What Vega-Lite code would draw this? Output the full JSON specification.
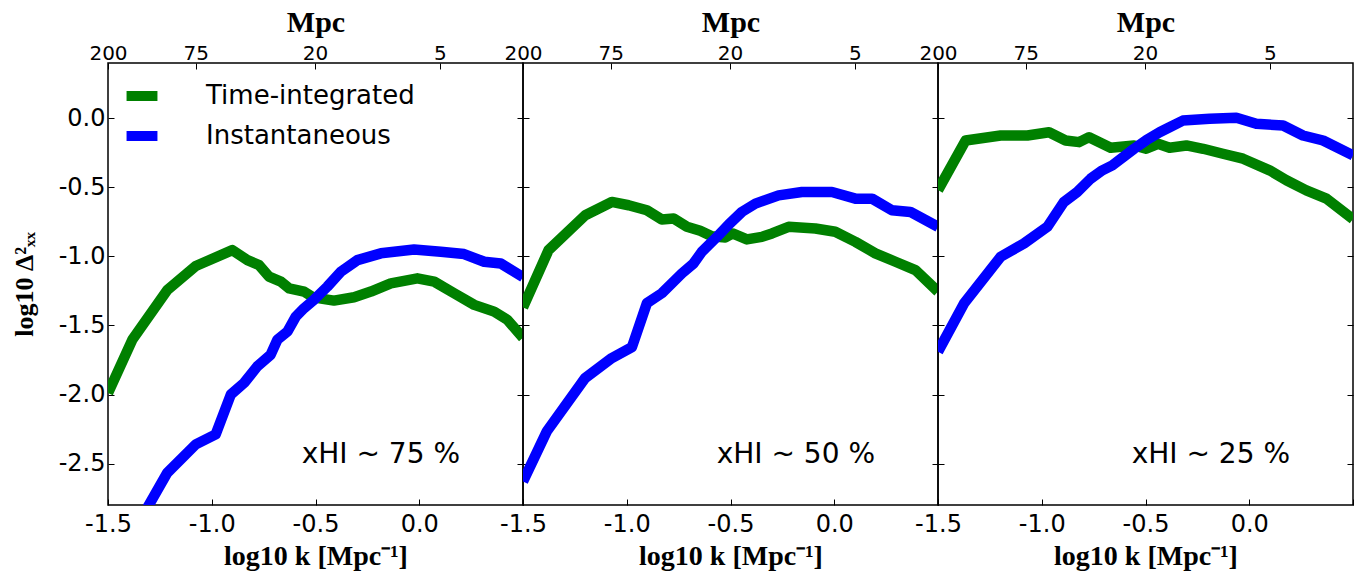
{
  "$schema": "https://vega.github.io/schema/vega-lite/v6.json",
  "background": "white",
  "padding": {"left": 10, "top": 6, "right": 5, "bottom": 5},
  "bounds": "flush",
  "spacing": 0,
  "datasets": {
    "d1": [
      {"s": "Time-integrated", "x": -1.5, "y": -1.99}, {"s": "Time-integrated", "x": -1.383, "y": -1.604}, {"s": "Time-integrated", "x": -1.214, "y": -1.243}, {"s": "Time-integrated", "x": -1.077, "y": -1.07}, {"s": "Time-integrated", "x": -0.901, "y": -0.955}, {"s": "Time-integrated", "x": -0.828, "y": -1.027}, {"s": "Time-integrated", "x": -0.772, "y": -1.063}, {"s": "Time-integrated", "x": -0.724, "y": -1.147}, {"s": "Time-integrated", "x": -0.667, "y": -1.183}, {"s": "Time-integrated", "x": -0.627, "y": -1.231}, {"s": "Time-integrated", "x": -0.555, "y": -1.255}, {"s": "Time-integrated", "x": -0.511, "y": -1.297}, {"s": "Time-integrated", "x": -0.411, "y": -1.32}, {"s": "Time-integrated", "x": -0.314, "y": -1.296}, {"s": "Time-integrated", "x": -0.233, "y": -1.255}, {"s": "Time-integrated", "x": -0.137, "y": -1.195}, {"s": "Time-integrated", "x": -0.009, "y": -1.159}, {"s": "Time-integrated", "x": 0.072, "y": -1.183}, {"s": "Time-integrated", "x": 0.168, "y": -1.267}, {"s": "Time-integrated", "x": 0.265, "y": -1.351}, {"s": "Time-integrated", "x": 0.361, "y": -1.4}, {"s": "Time-integrated", "x": 0.425, "y": -1.46}, {"s": "Time-integrated", "x": 0.5, "y": -1.59},
      {"s": "Instantaneous", "x": -1.36, "y": -2.95}, {"s": "Instantaneous", "x": -1.214, "y": -2.566}, {"s": "Instantaneous", "x": -1.077, "y": -2.361}, {"s": "Instantaneous", "x": -0.981, "y": -2.289}, {"s": "Instantaneous", "x": -0.908, "y": -2.0}, {"s": "Instantaneous", "x": -0.844, "y": -1.916}, {"s": "Instantaneous", "x": -0.78, "y": -1.796}, {"s": "Instantaneous", "x": -0.716, "y": -1.712}, {"s": "Instantaneous", "x": -0.684, "y": -1.604}, {"s": "Instantaneous", "x": -0.635, "y": -1.544}, {"s": "Instantaneous", "x": -0.595, "y": -1.436}, {"s": "Instantaneous", "x": -0.555, "y": -1.375}, {"s": "Instantaneous", "x": -0.511, "y": -1.32}, {"s": "Instantaneous", "x": -0.443, "y": -1.219}, {"s": "Instantaneous", "x": -0.378, "y": -1.111}, {"s": "Instantaneous", "x": -0.298, "y": -1.027}, {"s": "Instantaneous", "x": -0.185, "y": -0.978}, {"s": "Instantaneous", "x": -0.025, "y": -0.95}, {"s": "Instantaneous", "x": 0.104, "y": -0.967}, {"s": "Instantaneous", "x": 0.216, "y": -0.983}, {"s": "Instantaneous", "x": 0.313, "y": -1.039}, {"s": "Instantaneous", "x": 0.393, "y": -1.051}, {"s": "Instantaneous", "x": 0.5, "y": -1.15}
    ],
    "d2": [
      {"s": "Time-integrated", "x": -1.5, "y": -1.37}, {"s": "Time-integrated", "x": -1.377, "y": -0.955}, {"s": "Time-integrated", "x": -1.2, "y": -0.702}, {"s": "Time-integrated", "x": -1.072, "y": -0.606}, {"s": "Time-integrated", "x": -0.991, "y": -0.63}, {"s": "Time-integrated", "x": -0.903, "y": -0.666}, {"s": "Time-integrated", "x": -0.831, "y": -0.733}, {"s": "Time-integrated", "x": -0.774, "y": -0.726}, {"s": "Time-integrated", "x": -0.71, "y": -0.786}, {"s": "Time-integrated", "x": -0.646, "y": -0.815}, {"s": "Time-integrated", "x": -0.59, "y": -0.854}, {"s": "Time-integrated", "x": -0.525, "y": -0.863}, {"s": "Time-integrated", "x": -0.49, "y": -0.834}, {"s": "Time-integrated", "x": -0.421, "y": -0.877}, {"s": "Time-integrated", "x": -0.349, "y": -0.859}, {"s": "Time-integrated", "x": -0.3, "y": -0.834}, {"s": "Time-integrated", "x": -0.22, "y": -0.786}, {"s": "Time-integrated", "x": -0.091, "y": -0.798}, {"s": "Time-integrated", "x": 0.005, "y": -0.822}, {"s": "Time-integrated", "x": 0.102, "y": -0.895}, {"s": "Time-integrated", "x": 0.198, "y": -0.978}, {"s": "Time-integrated", "x": 0.295, "y": -1.039}, {"s": "Time-integrated", "x": 0.391, "y": -1.099}, {"s": "Time-integrated", "x": 0.5, "y": -1.255},
      {"s": "Instantaneous", "x": -1.5, "y": -2.63}, {"s": "Instantaneous", "x": -1.385, "y": -2.266}, {"s": "Instantaneous", "x": -1.2, "y": -1.88}, {"s": "Instantaneous", "x": -1.072, "y": -1.736}, {"s": "Instantaneous", "x": -0.975, "y": -1.657}, {"s": "Instantaneous", "x": -0.903, "y": -1.339}, {"s": "Instantaneous", "x": -0.831, "y": -1.267}, {"s": "Instantaneous", "x": -0.734, "y": -1.123}, {"s": "Instantaneous", "x": -0.678, "y": -1.051}, {"s": "Instantaneous", "x": -0.638, "y": -0.967}, {"s": "Instantaneous", "x": -0.557, "y": -0.846}, {"s": "Instantaneous", "x": -0.509, "y": -0.77}, {"s": "Instantaneous", "x": -0.445, "y": -0.678}, {"s": "Instantaneous", "x": -0.38, "y": -0.618}, {"s": "Instantaneous", "x": -0.268, "y": -0.558}, {"s": "Instantaneous", "x": -0.156, "y": -0.534}, {"s": "Instantaneous", "x": -0.011, "y": -0.534}, {"s": "Instantaneous", "x": 0.102, "y": -0.582}, {"s": "Instantaneous", "x": 0.182, "y": -0.582}, {"s": "Instantaneous", "x": 0.278, "y": -0.666}, {"s": "Instantaneous", "x": 0.367, "y": -0.678}, {"s": "Instantaneous", "x": 0.5, "y": -0.786}
    ],
    "d3": [
      {"s": "Time-integrated", "x": -1.5, "y": -0.52}, {"s": "Time-integrated", "x": -1.367, "y": -0.161}, {"s": "Time-integrated", "x": -1.198, "y": -0.125}, {"s": "Time-integrated", "x": -1.069, "y": -0.125}, {"s": "Time-integrated", "x": -0.965, "y": -0.101}, {"s": "Time-integrated", "x": -0.885, "y": -0.161}, {"s": "Time-integrated", "x": -0.82, "y": -0.173}, {"s": "Time-integrated", "x": -0.772, "y": -0.137}, {"s": "Time-integrated", "x": -0.668, "y": -0.214}, {"s": "Time-integrated", "x": -0.555, "y": -0.197}, {"s": "Time-integrated", "x": -0.497, "y": -0.221}, {"s": "Time-integrated", "x": -0.44, "y": -0.185}, {"s": "Time-integrated", "x": -0.384, "y": -0.214}, {"s": "Time-integrated", "x": -0.303, "y": -0.197}, {"s": "Time-integrated", "x": -0.222, "y": -0.221}, {"s": "Time-integrated", "x": -0.127, "y": -0.257}, {"s": "Time-integrated", "x": -0.03, "y": -0.293}, {"s": "Time-integrated", "x": 0.098, "y": -0.377}, {"s": "Time-integrated", "x": 0.179, "y": -0.449}, {"s": "Time-integrated", "x": 0.275, "y": -0.522}, {"s": "Time-integrated", "x": 0.372, "y": -0.582}, {"s": "Time-integrated", "x": 0.5, "y": -0.73},
      {"s": "Instantaneous", "x": -1.5, "y": -1.69}, {"s": "Instantaneous", "x": -1.374, "y": -1.339}, {"s": "Instantaneous", "x": -1.198, "y": -1.003}, {"s": "Instantaneous", "x": -1.085, "y": -0.906}, {"s": "Instantaneous", "x": -0.973, "y": -0.786}, {"s": "Instantaneous", "x": -0.893, "y": -0.606}, {"s": "Instantaneous", "x": -0.829, "y": -0.534}, {"s": "Instantaneous", "x": -0.764, "y": -0.437}, {"s": "Instantaneous", "x": -0.708, "y": -0.377}, {"s": "Instantaneous", "x": -0.66, "y": -0.341}, {"s": "Instantaneous", "x": -0.555, "y": -0.221}, {"s": "Instantaneous", "x": -0.497, "y": -0.16}, {"s": "Instantaneous", "x": -0.432, "y": -0.101}, {"s": "Instantaneous", "x": -0.384, "y": -0.065}, {"s": "Instantaneous", "x": -0.32, "y": -0.017}, {"s": "Instantaneous", "x": -0.191, "y": -0.004}, {"s": "Instantaneous", "x": -0.062, "y": 0.003}, {"s": "Instantaneous", "x": 0.034, "y": -0.04}, {"s": "Instantaneous", "x": 0.163, "y": -0.053}, {"s": "Instantaneous", "x": 0.259, "y": -0.125}, {"s": "Instantaneous", "x": 0.356, "y": -0.161}, {"s": "Instantaneous", "x": 0.5, "y": -0.269}
    ]
  },
  "hconcat": [
    {
      "width": 415, "height": 442,
      "layer": [
        {"data": {"name": "d1"}, "transform": [{"filter": "datum.s === 'Time-integrated'"}],
         "mark": {"type": "line", "strokeWidth": 10.5, "clip": true, "strokeJoin": "round"},
         "encoding": {
           "x": {"field": "x", "type": "quantitative", "scale": {"domain": [-1.5, 0.5], "nice": false, "zero": false}, "axis": {"orient": "bottom", "values": [-1.5, -1, -0.5, 0, 0.5], "labelExpr": "datum.value > 0.4 ? '' : replace(format(datum.value, '.1f'), '\u2212', '-')", "title": "log10 k [Mpc\u207b\u00b9]"}},
           "y": {"field": "y", "type": "quantitative", "scale": {"domain": [-2.8, 0.4], "nice": false, "zero": false}, "axis": {"values": [-2.5, -2, -1.5, -1, -0.5, 0], "labelPadding": 9, "titleFontSize": 26, "titlePadding": 21, "labelExpr": "replace(format(datum.value, '.1f'), '\u2212', '-')", "title": "log10 \u0394\u00b2\u2093\u2093"}},
           "color": {"field": "s", "type": "nominal", "scale": {"domain": ["Time-integrated", "Instantaneous"], "range": ["#008000", "#0000ff"]}, "legend": {"title": null}}
         }},
        {"data": {"name": "d1"}, "transform": [{"filter": "datum.s === 'Instantaneous'"}],
         "mark": {"type": "line", "strokeWidth": 10.5, "clip": true, "strokeJoin": "round"},
         "encoding": {
           "x": {"field": "x", "type": "quantitative", "axis": null},
           "y": {"field": "y", "type": "quantitative", "axis": null},
           "color": {"field": "s", "type": "nominal", "legend": {"title": null}}
         }},
        {"data": {"name": "d1"}, "mark": {"type": "point", "opacity": 0},
         "encoding": {
           "x": {"field": "x", "type": "quantitative", "axis": {"orient": "top", "values": [-1.5, -1.077, -0.503, 0.099], "labelFontSize": 20, "labelPadding": 6, "titleFontSize": 30, "titlePadding": 6, "labelExpr": "datum.value < -1.4 ? '200' : datum.value < -1 ? '75' : datum.value < -0.3 ? '20' : '5'", "title": "Mpc"}},
           "y": {"field": "y", "type": "quantitative", "axis": {"orient": "right", "values": [-2.5, -2, -1.5, -1, -0.5, 0], "labels": false, "title": null}}
         }},
        {"data": {"values": [{"t": "xHI ~ 75 %"}]}, "mark": {"type": "text", "font": "DejaVu Sans", "fontSize": 28, "align": "center", "baseline": "middle"},
         "encoding": {"x": {"datum": -0.185, "axis": null}, "y": {"datum": -2.44, "axis": null}, "text": {"field": "t"}}}
      ],
      "resolve": {"axis": {"x": "independent", "y": "independent"}}
    },
    {
      "width": 415, "height": 442,
      "layer": [
        {"data": {"name": "d2"}, "transform": [{"filter": "datum.s === 'Time-integrated'"}],
         "mark": {"type": "line", "strokeWidth": 10.5, "clip": true, "strokeJoin": "round"},
         "encoding": {
           "x": {"field": "x", "type": "quantitative", "scale": {"domain": [-1.5, 0.5], "nice": false, "zero": false}, "axis": {"orient": "bottom", "values": [-1.5, -1, -0.5, 0, 0.5], "labelExpr": "datum.value > 0.4 ? '' : replace(format(datum.value, '.1f'), '\u2212', '-')", "title": "log10 k [Mpc\u207b\u00b9]"}},
           "y": {"field": "y", "type": "quantitative", "scale": {"domain": [-2.8, 0.4], "nice": false, "zero": false}, "axis": {"values": [-2.5, -2, -1.5, -1, -0.5, 0], "labels": false, "title": null}},
           "color": {"field": "s", "type": "nominal", "legend": {"title": null}}
         }},
        {"data": {"name": "d2"}, "transform": [{"filter": "datum.s === 'Instantaneous'"}],
         "mark": {"type": "line", "strokeWidth": 10.5, "clip": true, "strokeJoin": "round"},
         "encoding": {
           "x": {"field": "x", "type": "quantitative", "axis": null},
           "y": {"field": "y", "type": "quantitative", "axis": null},
           "color": {"field": "s", "type": "nominal", "legend": {"title": null}}
         }},
        {"data": {"name": "d2"}, "mark": {"type": "point", "opacity": 0},
         "encoding": {
           "x": {"field": "x", "type": "quantitative", "axis": {"orient": "top", "values": [-1.5, -1.077, -0.503, 0.099], "labelFontSize": 20, "labelPadding": 6, "titleFontSize": 30, "titlePadding": 6, "labelExpr": "datum.value < -1.4 ? '200' : datum.value < -1 ? '75' : datum.value < -0.3 ? '20' : '5'", "title": "Mpc"}},
           "y": {"field": "y", "type": "quantitative", "axis": {"orient": "right", "values": [-2.5, -2, -1.5, -1, -0.5, 0], "labels": false, "title": null}}
         }},
        {"data": {"values": [{"t": "xHI ~ 50 %"}]}, "mark": {"type": "text", "font": "DejaVu Sans", "fontSize": 28, "align": "center", "baseline": "middle"},
         "encoding": {"x": {"datum": -0.185, "axis": null}, "y": {"datum": -2.44, "axis": null}, "text": {"field": "t"}}}
      ],
      "resolve": {"axis": {"x": "independent", "y": "independent"}}
    },
    {
      "width": 415, "height": 442,
      "layer": [
        {"data": {"name": "d3"}, "transform": [{"filter": "datum.s === 'Time-integrated'"}],
         "mark": {"type": "line", "strokeWidth": 10.5, "clip": true, "strokeJoin": "round"},
         "encoding": {
           "x": {"field": "x", "type": "quantitative", "scale": {"domain": [-1.5, 0.5], "nice": false, "zero": false}, "axis": {"orient": "bottom", "values": [-1.5, -1, -0.5, 0, 0.5], "labelExpr": "datum.value > 0.4 ? '' : replace(format(datum.value, '.1f'), '\u2212', '-')", "title": "log10 k [Mpc\u207b\u00b9]"}},
           "y": {"field": "y", "type": "quantitative", "scale": {"domain": [-2.8, 0.4], "nice": false, "zero": false}, "axis": {"values": [-2.5, -2, -1.5, -1, -0.5, 0], "labels": false, "title": null}},
           "color": {"field": "s", "type": "nominal", "legend": {"title": null}}
         }},
        {"data": {"name": "d3"}, "transform": [{"filter": "datum.s === 'Instantaneous'"}],
         "mark": {"type": "line", "strokeWidth": 10.5, "clip": true, "strokeJoin": "round"},
         "encoding": {
           "x": {"field": "x", "type": "quantitative", "axis": null},
           "y": {"field": "y", "type": "quantitative", "axis": null},
           "color": {"field": "s", "type": "nominal", "legend": {"title": null}}
         }},
        {"data": {"name": "d3"}, "mark": {"type": "point", "opacity": 0},
         "encoding": {
           "x": {"field": "x", "type": "quantitative", "axis": {"orient": "top", "values": [-1.5, -1.077, -0.503, 0.099], "labelFontSize": 20, "labelPadding": 6, "titleFontSize": 30, "titlePadding": 6, "labelExpr": "datum.value < -1.4 ? '200' : datum.value < -1 ? '75' : datum.value < -0.3 ? '20' : '5'", "title": "Mpc"}},
           "y": {"field": "y", "type": "quantitative", "axis": {"orient": "right", "values": [-2.5, -2, -1.5, -1, -0.5, 0], "labels": false, "title": null}}
         }},
        {"data": {"values": [{"t": "xHI ~ 25 %"}]}, "mark": {"type": "text", "font": "DejaVu Sans", "fontSize": 28, "align": "center", "baseline": "middle"},
         "encoding": {"x": {"datum": -0.185, "axis": null}, "y": {"datum": -2.44, "axis": null}, "text": {"field": "t"}}}
      ],
      "resolve": {"axis": {"x": "independent", "y": "independent"}}
    }
  ],
  "config": {
    "view": {"stroke": "black", "strokeWidth": 1.5},
    "axis": {"domain": false, "grid": false, "ticks": true, "tickColor": "black", "tickSize": -6, "tickWidth": 1, "labelFont": "DejaVu Sans", "labelFontSize": 24, "labelColor": "black", "labelPadding": 13, "titleFont": "Liberation Serif", "titleFontWeight": "bold", "titleFontSize": 28, "titleColor": "black", "titlePadding": 6, "labelFlush": false, "labelOverlap": false},
    "legend": {"orient": "none", "legendX": 14, "legendY": 13, "padding": 0, "symbolType": "M-1.03,0H1.03", "symbolSize": 900, "symbolStrokeWidth": 10, "labelFont": "DejaVu Sans", "labelFontSize": 26, "labelColor": "black", "labelOffset": 44, "rowPadding": 0, "labelLimit": 400}
  }
}
